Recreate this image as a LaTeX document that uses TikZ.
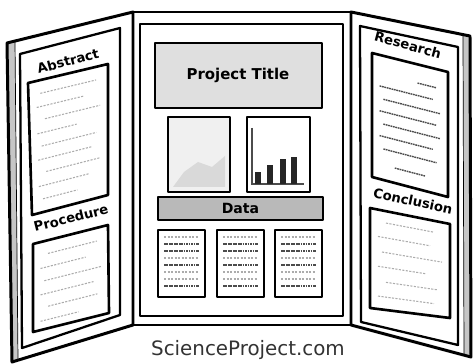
\documentclass[tikz,border=0pt]{standalone}
\usepackage{fontspec}
\setmainfont{DejaVu Sans}
\usetikzlibrary{calc}
\tikzset{
  edge/.style={line width=1.7pt, line join=round},
  inframe/.style={line width=1.3pt, line join=round},
  panelbox/.style={draw, line width=1.5pt, line join=round, fill=white},
  scribble/.style={gray!65, line width=0.6pt, dash pattern=on 1.2pt off 0.8pt},
  darkline/.style={black!70, line width=0.8pt, dash pattern=on 1pt off 0.4pt},
  heading/.style={font=\fontsize{7.5}{8}\selectfont\bfseries, inner sep=1pt},
  titletext/.style={font=\fontsize{8.5}{9}\selectfont\bfseries, inner sep=1pt},
  footer/.style={font=\fontsize{11.3}{13}\selectfont, text=black!80}
}
% lines of text in a slanted box: corners TL, TR, BR, BL, list pos/from/upto
\newcommand\boxlines[6][scribble]{%
  \foreach \pos/\from/\upto in {#6}{
    \coordinate (l) at ($(#2)!\pos!(#5)$);
    \coordinate (r) at ($(#3)!\pos!(#4)$);
    \draw[#1] ($(l)!\from!(r)$) -- ($(l)!\upto!(r)$);
  }}
\begin{document}
\begin{tikzpicture}[x=0.02cm,y=-0.02cm]
\useasboundingbox (0,0) rectangle (474,364);

% left wing
\fill[gray!45] (7,43) -- (15,41) -- (18,360) -- (12,362) -- cycle;
\draw[edge] (7,43) -- (133,12) -- (133,325) -- (12,362) -- cycle;
\draw[thin] (15,41) -- (18,360);
\draw[inframe] (20,54) -- (120,28) -- (120,315) -- (22,348) -- cycle;
\coordinate (a1) at (28,83);
\coordinate (a2) at (108,64);
\coordinate (a3) at (108,195);
\coordinate (a4) at (32,215);
\draw[panelbox] (a1) -- (a2) -- (a3) -- (a4) -- cycle;
\node[heading, rotate=15] (abstract) at (68,61) {Abstract};
\boxlines{a1}{a2}{a3}{a4}{0.1/0.15/0.85, 0.2/0.1/0.7, 0.3/0.2/0.9, 0.4/0.1/0.6, 0.5/0.15/0.85, 0.6/0.1/0.8, 0.7/0.2/0.9, 0.8/0.1/0.75, 0.9/0.15/0.6}
\coordinate (b1) at (33,244);
\coordinate (b2) at (108,225);
\coordinate (b3) at (109,313);
\coordinate (b4) at (33,332);
\draw[panelbox] (b1) -- (b2) -- (b3) -- (b4) -- cycle;
\node[heading, rotate=14] (procedure) at (71,218) {Procedure};
\boxlines{b1}{b2}{b3}{b4}{0.15/0.2/0.85, 0.3/0.1/0.7, 0.45/0.15/0.9, 0.6/0.1/0.8, 0.75/0.2/0.85, 0.9/0.1/0.6}

% middle panel
\draw[edge] (133,12) rectangle (351,325);
\draw[inframe] (140,24) rectangle (343,316);
\draw[panelbox, fill=gray!25] (155,43) rectangle (322,108);
\node[titletext] (title) at (238,75) {Project Title};
\draw[panelbox, fill=gray!12] (168,117) rectangle (230,192);
\fill[gray!30] (173,187) -- (184,172) -- (198,162) -- (212,167) -- (225,156) -- (225,187) -- cycle;
\draw[panelbox] (247,117) rectangle (310,192);
\draw[black!70, line width=0.8pt] (252,128) -- (252,184) -- (304,184);
\fill[black!85] (255,172) rectangle (261,184);
\fill[black!85] (267,165) rectangle (273,184);
\fill[black!85] (280,159) rectangle (286,184);
\fill[black!85] (291,157) rectangle (297,184);
\draw[panelbox, fill=gray!55] (158,197) rectangle (323,220);
\node[titletext, font=\fontsize{8}{9}\selectfont\bfseries] (data) at (240.5,208.5) {Data};
\foreach \x in {158,217,275}{
  \draw[panelbox] (\x,230) rectangle ++(47,67);
  \foreach \y/\kind in {237/scribble, 244/darkline, 251/darkline, 258/scribble, 265/darkline, 272/scribble, 279/scribble, 286/darkline}
    \draw[\kind] (\x+6,\y) -- (\x+41,\y);
}

% right wing
\fill[gray!45] (463,34) -- (470,36) -- (471,357) -- (464,355) -- cycle;
\draw[edge] (351,12) -- (470,36) -- (471,357) -- (351,325) -- cycle;
\draw[thin] (463,34) -- (464,355);
\draw[inframe] (360,26) -- (458,47) -- (458,345) -- (361,322) -- cycle;
\coordinate (c1) at (372,53);
\coordinate (c2) at (448,72);
\coordinate (c3) at (448,197);
\coordinate (c4) at (372,177);
\draw[panelbox] (c1) -- (c2) -- (c3) -- (c4) -- cycle;
\node[heading, rotate=-15] (research) at (408,45) {Research};
\boxlines[darkline]{c1}{c2}{c3}{c4}{0.15/0.6/0.85, 0.25/0.1/0.8, 0.35/0.15/0.9, 0.45/0.1/0.85, 0.55/0.15/0.9, 0.65/0.1/0.8, 0.75/0.15/0.85, 0.88/0.3/0.7}
\coordinate (d1) at (370,208);
\coordinate (d2) at (450,224);
\coordinate (d3) at (450,318);
\coordinate (d4) at (370,308);
\draw[panelbox] (d1) -- (d2) -- (d3) -- (d4) -- cycle;
\node[heading, rotate=-12] (conclusion) at (413,201) {Conclusion};
\boxlines{d1}{d2}{d3}{d4}{0.12/0.2/0.8, 0.27/0.1/0.75, 0.42/0.15/0.9, 0.57/0.1/0.7, 0.72/0.2/0.85, 0.87/0.1/0.8}

% site name
\node[footer] (site) at (248,350) {ScienceProject.com};
\end{tikzpicture}
\end{document}
